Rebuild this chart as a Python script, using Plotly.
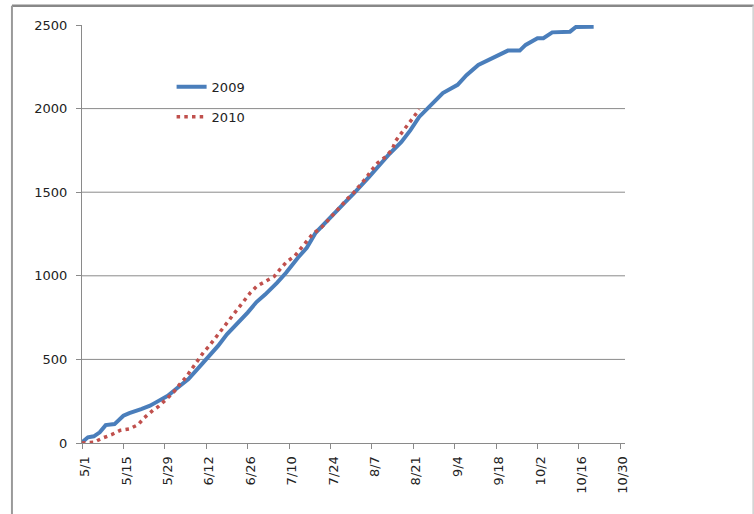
import datetime as dt
import plotly.graph_objects as go

# Cumulative totals by day of season (days counted from May 1)
days_2009 = [0, 2, 4, 6, 8, 11, 14, 16, 20, 23, 25, 29, 32, 36, 40, 42, 46, 49,
             52, 56, 59, 62, 66, 69, 73, 76, 79, 83, 86, 89, 92, 94, 97, 101,
             104, 108, 111, 114, 118, 122, 127, 130, 134, 139, 144, 148, 150,
             154, 156, 159, 165, 167, 173]
vals_2009 = [4, 34, 40, 64, 107, 113, 163, 179, 203, 223, 243, 282, 326, 382,
             461, 501, 581, 650, 704, 780, 843, 889, 959, 1018, 1108, 1168,
             1257, 1327, 1386, 1440, 1495, 1530, 1590, 1670, 1730, 1800, 1870,
             1950, 2020, 2093, 2142, 2200, 2261, 2307, 2347, 2347, 2381, 2421,
             2421, 2456, 2460, 2488, 2490]

days_2010 = [0, 4, 7, 10, 13, 16, 19, 21, 24, 26, 29, 31, 33, 35, 37, 39, 41,
             43, 45, 47, 49, 51, 53, 55, 57, 59, 62, 65, 67, 69, 72, 74, 76, 78,
             81, 83, 85, 87, 90, 92, 94, 96, 98, 100, 103, 105, 106, 108, 110,
             112, 114]
vals_2010 = [0, 4, 30, 50, 76, 84, 110, 150, 196, 220, 270, 304, 350, 390, 440,
             490, 540, 580, 624, 670, 716, 764, 810, 856, 900, 936, 964, 996,
             1040, 1080, 1120, 1164, 1204, 1250, 1290, 1330, 1370, 1410, 1465,
             1500, 1540, 1584, 1634, 1676, 1716, 1760, 1806, 1856, 1900, 1946,
             1996]

tick_labels = ["5/1", "5/15", "5/29", "6/12", "6/26", "7/10", "7/24", "8/7",
               "8/21", "9/4", "9/18", "10/2", "10/16", "10/30"]
y_ticks = [0, 500, 1000, 1500, 2000, 2500]

season_start = dt.datetime(2010, 5, 1)


def to_dates(day_offsets):
    return [season_start + dt.timedelta(days=d) for d in day_offsets]


tick_dates = [dt.datetime(2010, int(m), int(d))
              for m, d in (lbl.split("/") for lbl in tick_labels)]

FONT = dict(family="DejaVu Sans", size=13, color="#222222")
AXIS_GREY = "#8a8a8a"

fig = go.Figure()
fig.add_trace(go.Scatter(
    x=to_dates(days_2009), y=vals_2009, name="2009", mode="lines",
    line=dict(color="#4a7ebb", width=4), legendgroup="a",
))
fig.add_trace(go.Scatter(
    x=to_dates(days_2010), y=vals_2010, name="2010", mode="lines",
    line=dict(color="#c0504d", width=3.5, dash="3.5px,4.2px"), legendgroup="b",
))

# horizontal gridlines between the axis floor and the top of the range
shapes = [dict(type="line", xref="paper", x0=0, x1=1, yref="y", y0=v, y1=v,
               line=dict(color=AXIS_GREY, width=1), layer="below")
          for v in y_ticks[1:-1]]
# chart frame
shapes += [
    dict(type="line", xref="paper", yref="paper", x0=-0.129, x1=1.237,
         y0=1.046, y1=1.046, line=dict(color="#888888", width=2.5)),
    dict(type="line", xref="paper", yref="paper", x0=-0.129, x1=-0.129,
         y0=1.046, y1=-0.3, line=dict(color="#9a9a9a", width=2)),
    dict(type="line", xref="paper", yref="paper", x0=1.236, x1=1.236,
         y0=1.046, y1=-0.3, line=dict(color="#cfcfcf", width=1.5)),
]

fig.update_layout(
    width=754, height=514,
    margin=dict(l=82, r=129, t=25, b=71, pad=0),
    paper_bgcolor="white", plot_bgcolor="white",
    font=FONT,
    showlegend=True,
    legend=dict(x=0.165, y=0.888, xanchor="left", yanchor="top",
                bgcolor="rgba(0,0,0,0)", font=FONT, traceorder="grouped",
                tracegroupgap=10),
    shapes=shapes,
    xaxis=dict(
        range=[season_start, season_start + dt.timedelta(days=183.6)],
        tickvals=tick_dates, ticktext=tick_labels, tickangle=-90,
        showgrid=False, zeroline=False,
        showline=True, linecolor=AXIS_GREY, linewidth=1,
        ticks="outside", ticklen=5, tickcolor=AXIS_GREY, tickfont=FONT,
        ticklabelshift=3, ticklabelstandoff=2,
    ),
    yaxis=dict(
        range=[0, 2500], tickvals=y_ticks,
        showgrid=False, zeroline=False,
        showline=True, linecolor=AXIS_GREY, linewidth=1,
        ticks="outside", ticklen=5, tickcolor=AXIS_GREY, tickfont=FONT,
        ticklabelstandoff=6,
    ),
)

fig.write_html("out.html")
